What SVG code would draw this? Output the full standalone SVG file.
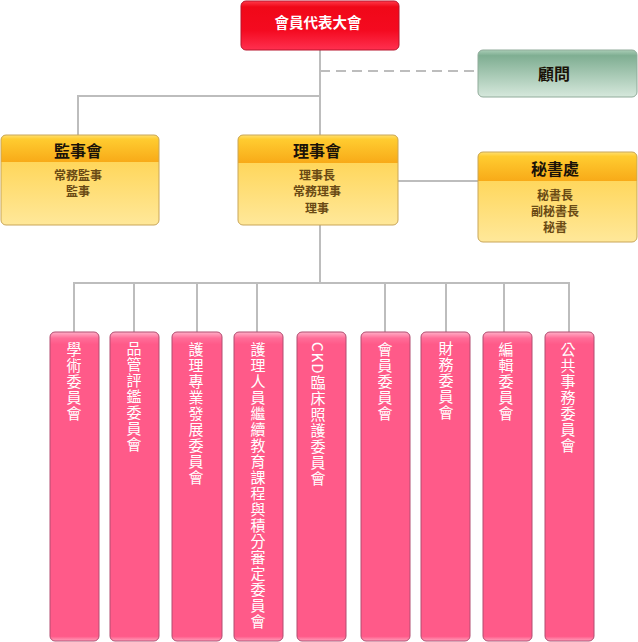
<svg xmlns="http://www.w3.org/2000/svg" width="638" height="642" viewBox="0 0 638 642">
<defs>
<linearGradient id="gRed" x1="0" y1="0" x2="0" y2="1">
<stop offset="0" stop-color="#ff3a4a"/><stop offset="0.12" stop-color="#f00818"/><stop offset="0.6" stop-color="#f40a20"/><stop offset="1" stop-color="#ff3050"/>
</linearGradient>
<linearGradient id="gGreen" x1="0" y1="0" x2="0" y2="1">
<stop offset="0" stop-color="#a9cdb6"/><stop offset="0.12" stop-color="#7fae92"/><stop offset="1" stop-color="#d6e8dc"/>
</linearGradient>
<linearGradient id="gHead" x1="0" y1="0" x2="0" y2="1">
<stop offset="0" stop-color="#ffe070"/><stop offset="0.15" stop-color="#ffcc30"/><stop offset="1" stop-color="#f8aa18"/>
</linearGradient>
<linearGradient id="gBody" x1="0" y1="0" x2="0" y2="1">
<stop offset="0" stop-color="#ffcf40"/><stop offset="1" stop-color="#ffe89a"/>
</linearGradient>
<linearGradient id="gPink" x1="0" y1="0" x2="0" y2="1">
<stop offset="0" stop-color="#ffb0c8"/><stop offset="0.02" stop-color="#ff6d98"/><stop offset="0.04" stop-color="#ff5a89"/><stop offset="0.985" stop-color="#ff5a89"/><stop offset="1" stop-color="#ffa0bc"/>
</linearGradient>
<clipPath id="cpJ"><rect x="1" y="135" width="158" height="90" rx="5"/></clipPath>
<clipPath id="cpL"><rect x="238" y="135" width="160" height="90" rx="5"/></clipPath>
<clipPath id="cpM"><rect x="478" y="152" width="159" height="90" rx="5"/></clipPath>
</defs>
<style>
.ln{stroke:#bdbdbd;stroke-width:2;fill:none}
.dash{stroke:#bdbdbd;stroke-width:2;fill:none;stroke-dasharray:10 6}
.hd{font-family:"Noto Sans CJK TC","Noto Sans CJK SC",sans-serif;font-size:16px;font-weight:bold;fill:#1a1208;text-anchor:middle}
.bd{font-family:"Noto Sans CJK TC","Noto Sans CJK SC",sans-serif;font-size:12px;font-weight:bold;fill:#6a4a14;text-anchor:middle}
.yb{stroke:#c9a658;stroke-width:1}
.pk{fill:url(#gPink);stroke:#b24c70;stroke-width:1}
.vt{font-family:"Noto Sans CJK TC","Noto Sans CJK SC",sans-serif;font-size:15px;fill:#ffffff;writing-mode:vertical-rl;letter-spacing:1px}
</style>
<g id="connectors">
<line class="ln" x1="320" y1="50" x2="320" y2="135"/>
<line class="ln" x1="320" y1="225" x2="320" y2="283"/>
<polyline class="ln" points="320,96 78,96 78,135"/>
<line class="dash" x1="320" y1="71" x2="478" y2="71"/>
<line class="ln" x1="398" y1="181" x2="478" y2="181"/>
<line class="ln" x1="73" y1="283" x2="570" y2="283"/>
<line class="ln" x1="74" y1="283" x2="74" y2="332"/>
<line class="ln" x1="134" y1="283" x2="134" y2="332"/>
<line class="ln" x1="197" y1="283" x2="197" y2="332"/>
<line class="ln" x1="257" y1="283" x2="257" y2="332"/>
<line class="ln" x1="385" y1="283" x2="385" y2="332"/>
<line class="ln" x1="446" y1="283" x2="446" y2="332"/>
<line class="ln" x1="504" y1="283" x2="504" y2="332"/>
<line class="ln" x1="569" y1="283" x2="569" y2="332"/>
</g>
<g id="n-assembly">
<rect x="241" y="1" width="158" height="49" rx="5" fill="url(#gRed)" stroke="#b8142c"/>
<text x="318" y="28" class="hd" style="fill:#fff;font-size:14.5px">會員代表大會</text>
</g>
<g id="n-advisor">
<rect x="478" y="50" width="159" height="47" rx="5" fill="url(#gGreen)" stroke="#90ab9a"/>
<text x="554" y="80" class="hd">顧問</text>
</g>
<g id="n-supervisors">
<g clip-path="url(#cpJ)">
<rect x="1" y="135" width="158" height="90" fill="url(#gBody)"/>
<rect x="1" y="135" width="158" height="27" fill="url(#gHead)"/>
</g>
<rect x="1" y="135" width="158" height="90" rx="5" fill="none" class="yb"/>
<text x="78" y="157" class="hd">監事會</text>
<text x="78" y="180" class="bd">常務監事</text>
<text x="78" y="196" class="bd">監事</text>
</g>
<g id="n-directors">
<g clip-path="url(#cpL)">
<rect x="238" y="135" width="160" height="90" fill="url(#gBody)"/>
<rect x="238" y="135" width="160" height="28" fill="url(#gHead)"/>
</g>
<rect x="238" y="135" width="160" height="90" rx="5" fill="none" class="yb"/>
<text x="317" y="157" class="hd">理事會</text>
<text x="317" y="180" class="bd">理事長</text>
<text x="317" y="196" class="bd">常務理事</text>
<text x="317" y="213" class="bd">理事</text>
</g>
<g id="n-secretariat">
<g clip-path="url(#cpM)">
<rect x="478" y="152" width="159" height="90" fill="url(#gBody)"/>
<rect x="478" y="152" width="159" height="29" fill="url(#gHead)"/>
</g>
<rect x="478" y="152" width="159" height="90" rx="5" fill="none" class="yb"/>
<text x="555" y="175" class="hd">秘書處</text>
<text x="555" y="200" class="bd">秘書長</text>
<text x="555" y="216" class="bd">副秘書長</text>
<text x="555" y="232" class="bd">秘書</text>
</g>
<g id="c1"><rect class="pk" x="50" y="332" width="49" height="309" rx="5"/><text class="vt" x="74" y="342">學術委員會</text></g>
<g id="c2"><rect class="pk" x="110" y="332" width="49" height="309" rx="5"/><text class="vt" x="134" y="341">品管評鑑委員會</text></g>
<g id="c3"><rect class="pk" x="172" y="332" width="50" height="309" rx="5"/><text class="vt" x="196" y="342">護理專業發展委員會</text></g>
<g id="c4"><rect class="pk" x="234" y="332" width="49" height="309" rx="5"/><text class="vt" x="258" y="342">護理人員繼續教育課程與積分審定委員會</text></g>
<g id="c5"><rect class="pk" x="297" y="332" width="49" height="309" rx="5"/><text class="vt" x="318" y="342">CKD臨床照護委員會</text></g>
<g id="c6"><rect class="pk" x="361" y="332" width="49" height="309" rx="5"/><text class="vt" x="385" y="342">會員委員會</text></g>
<g id="c7"><rect class="pk" x="421" y="332" width="49" height="309" rx="5"/><text class="vt" x="446" y="341">財務委員會</text></g>
<g id="c8"><rect class="pk" x="483" y="332" width="49" height="309" rx="5"/><text class="vt" x="506" y="342">編輯委員會</text></g>
<g id="c9"><rect class="pk" x="545" y="332" width="49" height="309" rx="5"/><text class="vt" x="568" y="342">公共事務委員會</text></g>
</svg>
